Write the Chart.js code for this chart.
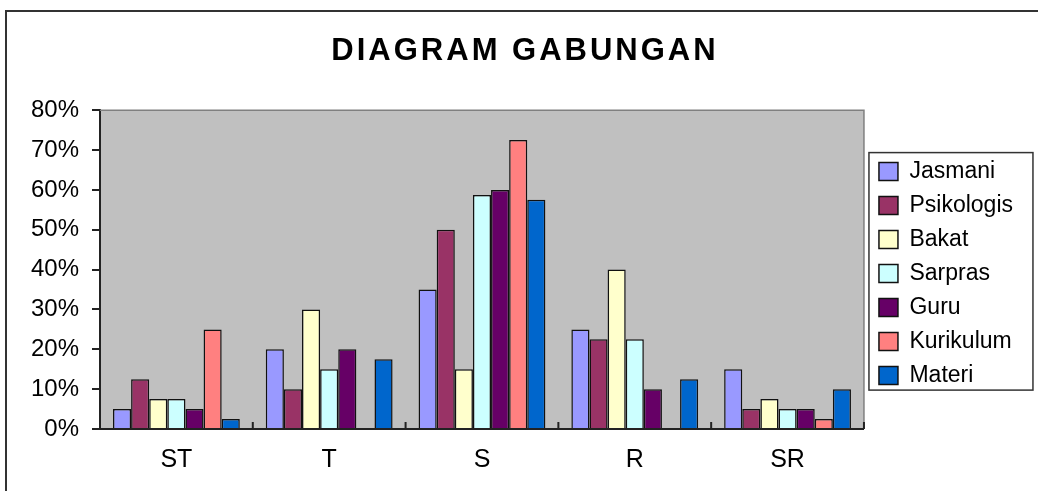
<!DOCTYPE html>
<html>
<head>
<meta charset="utf-8">
<title>Diagram Gabungan</title>
<script src="https://cdn.jsdelivr.net/npm/chart.js@4.4.1/dist/chart.umd.min.js"></script>
<style>
    html, body { margin: 0; padding: 0; background: #fff; }
    #wrap { width: 1038px; height: 491px; position: relative; }
</style>
</head>
<body>
<div id="wrap"><canvas id="chart"></canvas></div>
<script>
// categories on the x axis
const categories = ['ST', 'T', 'S', 'R', 'SR'];

// percentages per aspect (null = no bar)
const jasmani    = [5,    20,   35,    25,   15];
const psikologis = [12.5, 10,   50,    22.5, 5];
const bakat      = [7.5,  30,   15,    40,   7.5];
const sarpras    = [7.5,  15,   58.75, 22.5, 5];
const guru       = [5,    20,   60,    10,   5];
const kurikulum  = [25,   null, 72.5,  null, 2.5];
const materi     = [2.5,  17.5, 57.5,  12.5, 10];

const seriesNames = ['Jasmani', 'Psikologis', 'Bakat', 'Sarpras', 'Guru', 'Kurikulum', 'Materi'];
const seriesValues = [jasmani, psikologis, bakat, sarpras, guru, kurikulum, materi];
const seriesColors = ['#9999FF', '#993366', '#FFFFCC', '#CCFFFF', '#660066', '#FF8080', '#0066CC'];

const FONT = '"Liberation Sans", Arial, sans-serif';

// grey plot area + outer frame
const backdrop = {
    id: 'backdrop',
    beforeDraw(chart) {
        const {ctx, chartArea: a} = chart;
        ctx.save();
        ctx.fillStyle = '#C0C0C0';
        ctx.fillRect(a.left, a.top, a.right - a.left, a.bottom - a.top);
        ctx.strokeStyle = '#333';
        ctx.lineWidth = 2;
        ctx.strokeRect(6, 11, 1200, 700);
        ctx.restore();
    }
};

// excel-like details: grey top/right border, inward tick marks between categories
const plotFrame = {
    id: 'plotFrame',
    afterDatasetsDraw(chart) {
        const {ctx, chartArea: a} = chart;
        const x = chart.scales.x;
        ctx.save();
        ctx.strokeStyle = '#808080';
        ctx.lineWidth = 1.5;
        ctx.beginPath();
        ctx.moveTo(a.left, a.top);
        ctx.lineTo(a.right, a.top);
        ctx.lineTo(a.right, a.bottom);
        ctx.stroke();

        ctx.strokeStyle = '#222';
        ctx.lineWidth = 2;
        ctx.beginPath();
        for (let i = 1; i <= categories.length; i++) {
            const px = i < categories.length
                ? (x.getPixelForTick(i - 1) + x.getPixelForTick(i)) / 2
                : a.right;
            ctx.moveTo(px, a.bottom);
            ctx.lineTo(px, a.bottom - 7);
        }
        ctx.moveTo(a.left, a.bottom);
        ctx.lineTo(a.right, a.bottom);
        ctx.stroke();
        ctx.restore();
    }
};

// center the legend on the plot area and box it
const legendFrame = {
    id: 'legendFrame',
    afterLayout(chart) {
        const l = chart.legend;
        if (!l) return;
        const a = chart.chartArea;
        l.top = a.top + 4;
        l.bottom = a.bottom + 4;
        l.height = l.bottom - l.top;
        l.left += 4;
        l.right += 4;
    },
    afterDraw(chart) {
        const boxes = chart.legend && chart.legend.legendHitBoxes;
        if (!boxes || !boxes.length) return;
        const first = boxes[0], last = boxes[boxes.length - 1];
        const ctx = chart.ctx;
        const left = first.left - 10;
        const top = first.top - 7.5;
        const bottom = last.top + last.height + 3;
        ctx.save();
        ctx.strokeStyle = '#333';
        ctx.lineWidth = 1.5;
        ctx.strokeRect(left, top, 164, bottom - top);
        ctx.restore();
    }
};

// wider letter spacing for the title only
const titleSpacing = {
    id: 'titleSpacing',
    afterInit(chart) {
        const t = chart.titleBlock;
        if (!t) return;
        const orig = t.draw.bind(t);
        t.draw = function () {
            chart.ctx.save();
            chart.ctx.letterSpacing = '3px';
            orig();
            chart.ctx.restore();
        };
    }
};

Chart.defaults.font.family = FONT;
Chart.defaults.color = '#000';

const ctx = document.getElementById('chart').getContext('2d');
new Chart(ctx, {
    type: 'bar',
    data: {
        labels: categories,
        datasets: seriesNames.map((name, i) => ({
            label: name,
            data: seriesValues[i],
            backgroundColor: seriesColors[i],
            borderColor: '#111',
            borderWidth: 1.5,
            categoryPercentage: 0.83,
            barPercentage: 1.0
        }))
    },
    options: {
        responsive: true,
        maintainAspectRatio: false,
        animation: false,
        layout: {padding: {left: 31, right: 19, top: 0, bottom: 0}},
        plugins: {
            title: {
                display: true,
                text: 'DIAGRAM GABUNGAN',
                color: '#000',
                font: {size: 31, weight: 'bold', family: FONT},
                padding: {top: 33, bottom: 40}
            },
            legend: {
                position: 'right',
                labels: {
                    boxWidth: 19,
                    boxHeight: 18,
                    padding: 11,
                    color: '#000',
                    font: {size: 23, family: FONT}
                }
            },
            tooltip: {enabled: false}
        },
        scales: {
            x: {
                grid: {display: true, drawOnChartArea: false, drawTicks: false},
                border: {color: '#222', width: 2},
                ticks: {padding: 16, font: {size: 25}, color: '#000'}
            },
            y: {
                min: 0,
                max: 80,
                grid: {drawOnChartArea: false, drawTicks: true, tickLength: 8, color: '#222', lineWidth: 2},
                border: {color: '#222', width: 2},
                ticks: {
                    stepSize: 10,
                    padding: 13,
                    font: {size: 24},
                    color: '#000',
                    callback: v => v + '%'
                },
                afterFit(scale) { scale.width = 69; }
            }
        }
    },
    plugins: [backdrop, plotFrame, legendFrame, titleSpacing]
});
</script>
</body>
</html>
